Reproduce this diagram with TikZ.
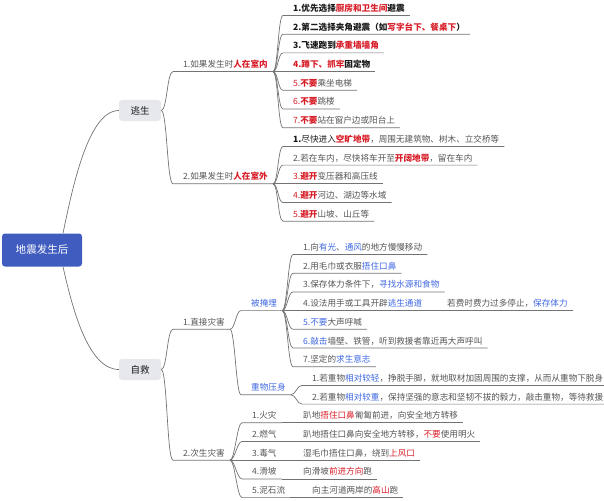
\documentclass[tikz,border=0pt]{standalone}
\usepackage{fontspec}
\setmainfont{Noto Sans CJK SC}
\usepackage{xcolor}
\usepackage{tikz}

\definecolor{rootblue}{RGB}{63,92,190}
\definecolor{boxgray}{RGB}{230,232,238}
\definecolor{linegray}{RGB}{115,115,115}
\definecolor{txtgray}{RGB}{85,85,85}
\definecolor{txtdark}{RGB}{25,25,25}
\definecolor{hotred}{RGB}{215,30,40}
\definecolor{coolblue}{RGB}{65,105,225}

\newcommand{\redb}[1]{\textcolor{hotred}{\bfseries #1}}
\newcommand{\redn}[1]{\textcolor{hotred}{#1}}
\newcommand{\bluen}[1]{\textcolor{coolblue}{#1}}

\begin{document}
\begin{tikzpicture}[x=1pt, y=-1pt,
	root/.style={rectangle, rounded corners=3pt, fill=rootblue, text=white,
		minimum width=80pt, minimum height=33pt, font=\fontsize{10.5}{12}\selectfont},
	topic/.style={rectangle, rounded corners=3pt, fill=boxgray, text=txtdark,
		minimum width=42pt, minimum height=21pt, font=\fontsize{9.5}{11}\selectfont},
	item/.style={anchor=south west, inner xsep=5pt, inner ysep=2.2pt,
		text height=7pt, text depth=1.6pt, text=txtgray, font=\fontsize{8.6}{10}\selectfont},
	strong/.style={text=txtdark, font=\fontsize{8.6}{10}\selectfont\bfseries},
	link/.style={draw=linegray, line width=0.7pt}
	]
	\useasboundingbox (0,0) rectangle (604,500);

	\node[root] (root) at (42,250) {地震发生后};
	\node[topic] (tao) at (140,110.5) {逃生};
	\node[topic] (zj) at (140,369.5) {自救};

	% 逃生
	\node[item] (indoor) at (178,71.6) {1.如果发生时\redb{人在室内}};
	\node[item] (outdoor) at (178,183.8) {2.如果发生时\redb{人在室外}};

	\node[item, strong] (in1) at (288,15.5) {1.优先选择\redb{厨房和卫生间}避震};
	\node[item, strong] (in2) at (288,34.2) {2.第二选择夹角避震（如\redb{写字台下、餐桌下}）};
	\node[item, strong] (in3) at (288,52.9) {3.飞速跑到\redb{承重墙墙角}};
	\node[item, strong] (in4) at (288,71.6) {\redb{4.蹲下、抓牢}固定物};
	\node[item] (in5) at (288,90.3) {\redn{5.}\redb{不要}乘坐电梯};
	\node[item] (in6) at (288,109.0) {\redn{6.}\redb{不要}跳楼};
	\node[item] (in7) at (288,127.7) {\redn{7.}\redb{不要}站在窗户边或阳台上};

	\node[item] (out1) at (288,146.4) {\textcolor{txtdark}{\bfseries 1.}\textcolor{txtdark}{尽快进入}\redb{空旷地带}，周围无建筑物、树木、立交桥等};
	\node[item] (out2) at (288,165.1) {2.若在车内，尽快将车开至\redb{开阔地带}，留在车内};
	\node[item] (out3) at (288,183.8) {\redn{3.}\redb{避开}变压器和高压线};
	\node[item] (out4) at (288,202.5) {\redn{4.}\redb{避开}河边、湖边等水域};
	\node[item] (out5) at (288,221.2) {\redn{5.}\redb{避开}山坡、山丘等};

	% 自救
	\node[item] (direct) at (178,329.3) {1.直接灾害};
	\node[item] (second) at (178,460.2) {2.次生灾害};
	\node[item, text=coolblue] (buried) at (246,310.6) {被掩埋};
	\node[item, text=coolblue] (pressed) at (246,394.75) {重物压身};

	\node[item] (b1) at (298,254.5) {1.向\bluen{有光}、\bluen{通风}的地方慢慢移动};
	\node[item] (b2) at (298,273.2) {2.用毛巾或衣服\bluen{捂住口鼻}};
	\node[item] (b3) at (298,291.9) {3.保存体力条件下，\bluen{寻找水源和食物}};
	\node[item] (b4) at (298,310.6) {4.设法用手或工具开辟\bluen{逃生通道}};
	\node[item] (b4a) at (442,310.6) {若费时费力过多停止，\bluen{保存体力}};
	\node[item] (b5) at (298,329.3) {\bluen{5.不要}大声呼喊};
	\node[item] (b6) at (298,348.0) {\bluen{6.敲击}墙壁、铁管，听到救援者靠近再大声呼叫};
	\node[item] (b7) at (298,366.7) {7.坚定的\bluen{求生意志}};

	\node[item] (p1) at (307,385.4) {1.若重物\bluen{相对较轻}，挣脱手脚，就地取材加固周围的支撑，从而从重物下脱身};
	\node[item] (p2) at (307,404.1) {2.若重物\bluen{相对较重}，保持坚强的意志和坚韧不拔的毅力，敲击重物，等待救援};

	\node[item] (s1) at (247,422.8) {1.火灾};
	\node[item] (s2) at (247,441.5) {2.燃气};
	\node[item] (s3) at (247,460.2) {3.毒气};
	\node[item] (s4) at (247,478.9) {4.滑坡};
	\node[item] (s5) at (247,497.6) {5.泥石流};

	\node[item] (d1) at (298,422.8) {趴地\redn{捂住口鼻}匍匐前进，向安全地方转移};
	\node[item] (d2) at (298,441.5) {趴地捂住口鼻向安全地方转移，\redn{不要}使用明火};
	\node[item] (d3) at (298,460.2) {湿毛巾捂住口鼻，绕到\redn{上风口}};
	\node[item] (d4) at (298,478.9) {向滑坡\redn{前进方向}跑};
	\node[item] (d5) at (307,497.6) {向主河道两岸的\redn{高山}跑};

	% connectors
	\draw[link] ([xshift=21pt]root.north) .. controls +(9,-43) and +(-31,0) .. (tao.west);
	\draw[link] ([xshift=21pt]root.south) .. controls +(9,40) and +(-31,0) .. (zj.west);

	\foreach \a/\b in {tao/indoor, tao/outdoor, zj/direct, zj/second}
		\draw[link] (\a.east) .. controls +(6,0) and +(-6,0) .. ([xshift=-5pt]\b.south west) -- (\b.south east);

	\foreach \a/\b in {indoor/in1, indoor/in2, indoor/in3, indoor/in4, indoor/in5, indoor/in6, indoor/in7,
		outdoor/out1, outdoor/out2, outdoor/out3, outdoor/out4, outdoor/out5,
		direct/buried, direct/pressed,
		buried/b1, buried/b2, buried/b3, buried/b4, buried/b5, buried/b6, buried/b7, b4/b4a,
		pressed/p1, pressed/p2,
		second/s1, second/s2, second/s3, second/s4, second/s5,
		s1/d1, s2/d2, s3/d3, s4/d4, s5/d5}
		\draw[link] (\a.south east) .. controls +(5,0) and +(-5,0) .. ([xshift=-5pt]\b.south west) -- (\b.south east);
\end{tikzpicture}
\end{document}
